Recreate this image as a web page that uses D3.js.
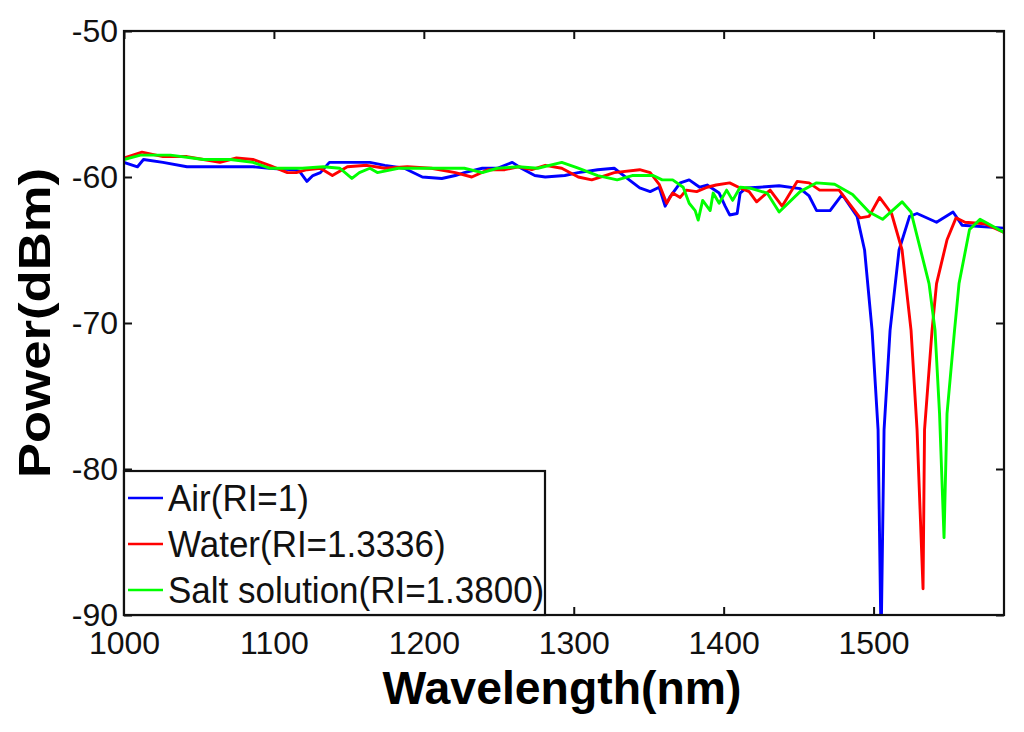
<!DOCTYPE html>
<html>
<head>
<meta charset="utf-8">
<script src="https://cdn.jsdelivr.net/npm/d3@7"></script>
<style>
  body { margin: 0; background: #fff; }
  text { font-family: "Liberation Sans", Arial, sans-serif; }
</style>
</head>
<body>
<div id="chart"></div>
<script>
// Data
var xTicks = [1000, 1100, 1200, 1300, 1400, 1500];
var yTicks = [-90, -80, -70, -60, -50];
var seriesNames = ["Air(RI=1)", "Water(RI=1.3336)", "Salt solution(RI=1.3800)"];
var seriesColors = ["#0000ff", "#ff0000", "#00ff00"];

var airWl = [1000, 1009, 1013, 1026, 1042, 1064, 1086, 1097, 1113, 1117, 1122, 1126, 1131, 1137, 1153, 1164,
  1174, 1187, 1199, 1212, 1221, 1227, 1239, 1249, 1259, 1265, 1274, 1281, 1294, 1303, 1316, 1327, 1337,
  1344, 1351, 1357, 1361, 1364, 1371, 1377, 1384, 1389, 1397, 1401, 1404, 1409, 1411, 1415, 1424, 1437,
  1451, 1457, 1462, 1471, 1479, 1489, 1494, 1499, 1503, 1505, 1507, 1511, 1517, 1524, 1529, 1542, 1553,
  1559, 1587];
var airPower = [-59.0, -59.3, -58.8, -59.0, -59.3, -59.3, -59.3, -59.4, -59.5, -59.6, -60.3, -59.9, -59.7, -59.0, -59.0, -59.0,
  -59.2, -59.4, -60.0, -60.1, -59.9, -59.7, -59.4, -59.4, -59.0, -59.4, -59.9, -60.0, -59.9, -59.7, -59.5, -59.4, -60.2,
  -60.75, -61.0, -60.7, -62.0, -61.4, -60.4, -60.2, -60.7, -60.55, -61.1, -62.0, -62.6, -62.5, -61.1, -60.75, -60.7, -60.6,
  -60.8, -61.3, -62.3, -62.3, -61.2, -62.7, -65.0, -70.5, -77.3, -92.0, -77.3, -70.5, -65.0, -62.7, -62.5, -63.1, -62.4,
  -63.3, -63.5];

var waterWl = [1000, 1012, 1026, 1042, 1053, 1064, 1075, 1086, 1097, 1109, 1115, 1122, 1131, 1139, 1149, 1162,
  1174, 1189, 1205, 1221, 1232, 1243, 1254, 1263, 1272, 1281, 1292, 1303, 1312, 1321, 1327, 1344, 1351,
  1357, 1362, 1366, 1371, 1375, 1382, 1389, 1395, 1404, 1411, 1417, 1422, 1431, 1439, 1449, 1457, 1464,
  1477, 1491, 1497, 1504, 1512, 1519, 1525, 1529, 1533, 1534, 1539, 1542, 1549, 1555, 1561, 1574, 1587];
var waterPower = [-58.7, -58.3, -58.6, -58.6, -58.8, -59.0, -58.7, -58.8, -59.2, -59.7, -59.7, -59.5, -59.4, -59.9, -59.3, -59.2,
  -59.4, -59.3, -59.4, -59.7, -60.0, -59.5, -59.5, -59.3, -59.5, -59.2, -59.4, -60.0, -60.2, -59.9, -59.7, -59.5, -59.7,
  -60.5, -61.8, -61.1, -61.4, -60.9, -61.0, -60.7, -60.55, -60.4, -60.75, -61.0, -61.7, -60.9, -62.0, -60.3, -60.4, -60.9,
  -60.9, -62.8, -62.7, -61.4, -62.5, -65.0, -70.5, -77.3, -88.2, -77.3, -70.5, -67.3, -64.3, -62.8, -63.1, -63.2, -63.8];

var saltWl = [1000, 1011, 1031, 1053, 1071, 1086, 1097, 1119, 1133, 1144, 1152, 1157, 1164, 1169, 1183, 1205,
  1227, 1239, 1249, 1263, 1276, 1292, 1303, 1316, 1329, 1339, 1353, 1359, 1366, 1373, 1377, 1381, 1383,
  1386, 1391, 1393, 1397, 1402, 1406, 1411, 1417, 1429, 1437, 1451, 1462, 1474, 1486, 1497, 1506, 1519,
  1525, 1537, 1541, 1544, 1547, 1549, 1554, 1557, 1564, 1571, 1587];
var saltPower = [-58.8, -58.5, -58.5, -58.8, -58.8, -59.0, -59.4, -59.4, -59.3, -59.4, -60.1, -59.7, -59.4, -59.7, -59.4, -59.4,
  -59.4, -59.7, -59.4, -59.3, -59.4, -59.0, -59.4, -59.9, -60.2, -59.9, -59.9, -60.2, -60.2, -60.7, -61.8, -62.3, -62.95,
  -61.6, -62.3, -61.1, -61.8, -60.9, -61.6, -60.7, -60.75, -61.1, -62.4, -61.0, -60.4, -60.5, -61.2, -62.4, -62.9, -61.7,
  -62.4, -67.3, -70.5, -76.2, -84.7, -76.2, -70.5, -67.3, -63.6, -62.9, -63.8];

var seriesWl = [airWl, waterWl, saltWl];
var seriesPower = [airPower, waterPower, saltPower];

// Layout
var margin = { top: 31, right: 20, bottom: 117, left: 124 },
  width = 1004 - margin.left,
  height = 615 - margin.top;

var svg = d3.select("#chart")
  .append("svg")
  .attr("width", 1024)
  .attr("height", 732)
  .append("g")
  .attr("transform", "translate(" + margin.left + "," + margin.top + ")");

var x = d3.scaleLinear().domain([1000, 1587]).range([0, width]);
var y = d3.scaleLinear().domain([-90, -50]).range([height, 0]);

svg.append("clipPath").attr("id", "plotclip")
  .append("rect").attr("width", width).attr("height", height);

// Lines
var line = d3.line()
  .x(function (d) { return x(d[0]); })
  .y(function (d) { return y(d[1]); });

seriesWl.forEach(function (wl, i) {
  var pts = wl.map(function (w, j) { return [w, seriesPower[i][j]]; });
  svg.append("path")
    .datum(pts)
    .attr("clip-path", "url(#plotclip)")
    .attr("fill", "none")
    .attr("stroke", seriesColors[i])
    .attr("stroke-width", 2.9)
    .attr("stroke-linejoin", "round")
    .attr("d", line);
});

// Axes (ticks point inward, MATLAB style), plain hyphen minus in labels
var plain = function (d) { return String(d); };

function styleAxis(g, labels) {
  g.select(".domain").remove();
  g.selectAll(".tick line").attr("stroke", "#111").attr("stroke-width", 2);
  if (!labels) g.selectAll(".tick text").remove();
  else g.selectAll(".tick text").style("font-size", "32px").attr("fill", "#111");
}

svg.append("g")
  .attr("transform", "translate(0," + height + ")")
  .call(d3.axisBottom(x).tickValues(xTicks).tickFormat(plain).tickSizeInner(-8).tickSizeOuter(0).tickPadding(16))
  .call(styleAxis, true);
svg.append("g")
  .call(d3.axisTop(x).tickValues(xTicks).tickSizeInner(-8).tickSizeOuter(0))
  .call(styleAxis, false);
svg.append("g")
  .call(d3.axisLeft(y).tickValues(yTicks).tickFormat(plain).tickSizeInner(-8).tickSizeOuter(0).tickPadding(6))
  .call(styleAxis, true);
svg.append("g")
  .attr("transform", "translate(" + width + ",0)")
  .call(d3.axisRight(y).tickValues(yTicks).tickSizeInner(-8).tickSizeOuter(0))
  .call(styleAxis, false);

// Box
svg.append("rect")
  .attr("width", width)
  .attr("height", height)
  .attr("fill", "none")
  .attr("stroke", "#111")
  .attr("stroke-width", 2.2);

// Axis titles
svg.append("text")
  .attr("x", 562 - margin.left)
  .attr("y", 704 - margin.top)
  .attr("text-anchor", "middle")
  .attr("textLength", 359)
  .attr("lengthAdjust", "spacingAndGlyphs")
  .style("font-size", "47px")
  .style("font-weight", "bold")
  .attr("fill", "#000")
  .text("Wavelength(nm)");

svg.append("text")
  .attr("transform", "translate(" + (50 - margin.left) + "," + (323 - margin.top) + ") rotate(-90)")
  .attr("text-anchor", "middle")
  .attr("textLength", 310)
  .attr("lengthAdjust", "spacingAndGlyphs")
  .style("font-size", "45px")
  .style("font-weight", "bold")
  .attr("fill", "#000")
  .text("Power(dBm)");

// Legend
var legend = svg.append("g").attr("transform", "translate(0," + (471 - margin.top) + ")");
legend.append("rect")
  .attr("width", 421)
  .attr("height", 615 - 471)
  .attr("fill", "#fff")
  .attr("stroke", "#111")
  .attr("stroke-width", 2.2);

seriesNames.forEach(function (name, i) {
  var ly = 27 + i * 46;
  legend.append("line")
    .attr("x1", 4).attr("x2", 39)
    .attr("y1", ly).attr("y2", ly)
    .attr("stroke", seriesColors[i])
    .attr("stroke-width", 2.6);
  legend.append("text")
    .attr("x", 44)
    .attr("y", ly + 13)
    .style("font-size", "35px")
    .attr("fill", "#111")
    .attr("transform", "translate(0," + (ly + 13) + ") scale(1,1.08) translate(0," + (-(ly + 13)) + ")")
    .text(name);
});
</script>
</body>
</html>
